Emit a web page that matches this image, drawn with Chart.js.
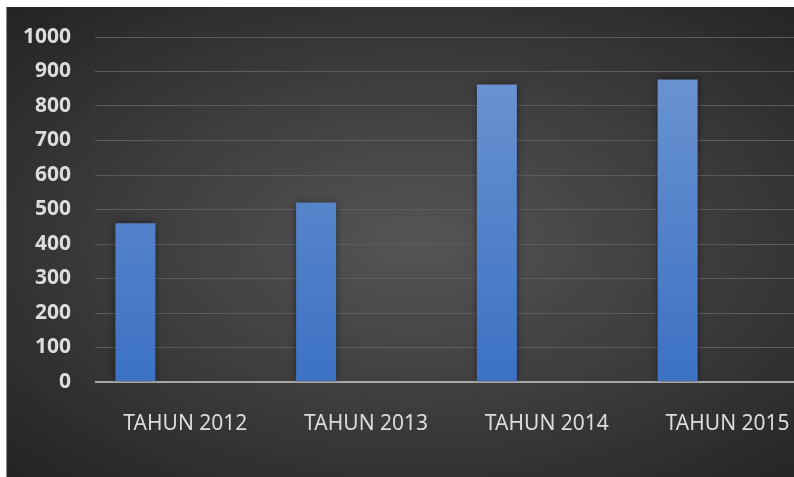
<!DOCTYPE html>
<html>
<head>
<meta charset="utf-8">
<script src="https://cdn.jsdelivr.net/npm/chart.js@4.4.0/dist/chart.umd.min.js"></script>
<style>
  html, body { margin: 0; padding: 0; background: #fff; overflow: hidden; }
  #frame {
    position: absolute; left: 6px; top: 7px; width: 788px; height: 470px;
    overflow: hidden; border-left: 1px solid #8a8a8a;
    background: radial-gradient(ellipse farthest-corner at 52% 50%, #555555 0%, #3a3a3a 55%, #232323 100%);
  }
  #chart { position: absolute; left: 0; top: 0; }
</style>
</head>
<body>
<div id="frame"><canvas id="chart" width="830" height="470"></canvas></div>
<script>
const categories = ['TAHUN 2012', 'TAHUN 2013', 'TAHUN 2014', 'TAHUN 2015'];
const series1 = [460, 520, 862, 877];
const series2 = [null, null, null, null];
const series3 = [null, null, null, null];
const yTicks = [0, 100, 200, 300, 400, 500, 600, 700, 800, 900, 1000];

function barFill(context) {
    const area = context.chart.chartArea;
    if (!area) return '#4f80c9';
    const g = context.chart.ctx.createLinearGradient(0, area.top, 0, area.bottom);
    g.addColorStop(0, '#6f97d2');
    g.addColorStop(1, '#3c71c4');
    return g;
}

const barShadow = {
    id: 'barShadow',
    beforeDatasetsDraw(chart) {
        const ctx = chart.ctx;
        ctx.save();
        ctx.shadowColor = 'rgba(0,0,0,0.55)';
        ctx.shadowBlur = 7;
    },
    afterDatasetsDraw(chart) {
        chart.ctx.restore();
    }
};

new Chart(document.getElementById('chart'), {
    type: 'bar',
    data: {
        labels: categories,
        datasets: [
            { label: 'Series 1', data: series1, backgroundColor: barFill },
            { label: 'Series 2', data: series2, backgroundColor: '#a5a5a5' },
            { label: 'Series 3', data: series3, backgroundColor: '#ffc000' }
        ]
    },
    options: {
        responsive: false,
        animation: false,
        devicePixelRatio: 1,
        layout: { padding: { top: 0, right: 19, left: 0, bottom: 0 } },
        datasets: { bar: { categoryPercentage: 0.83, barPercentage: 0.8 } },
        plugins: { legend: { display: false }, tooltip: { enabled: false } },
        scales: {
            x: {
                grid: { display: false, drawTicks: false },
                border: { display: false },
                ticks: {
                    color: '#dcdcdc',
                    padding: 29,
                    maxRotation: 0,
                    font: { family: 'Noto Sans', size: 21 }
                },
                afterFit(scale) { scale.height = 95; }
            },
            y: {
                min: 0,
                max: 1000,
                afterBuildTicks(scale) { scale.ticks = yTicks.map(v => ({ value: v })); },
                grid: {
                    drawTicks: false,
                    color: ctx => ctx.tick && ctx.tick.value === 0 ? '#a8a8a8' : '#5c5c5c',
                    lineWidth: ctx => ctx.tick && ctx.tick.value === 0 ? 2 : 1
                },
                border: { display: false },
                ticks: {
                    color: '#dcdcdc',
                    padding: 24,
                    font: { family: 'Noto Sans', size: 21, weight: 'bold' },
                    callback: v => String(v)
                },
                afterFit(scale) {
                    scale.width = 88;
                    scale.paddingTop = 30;
                    scale.paddingBottom = 12;
                }
            }
        }
    },
    plugins: [barShadow]
});
</script>
</body>
</html>
